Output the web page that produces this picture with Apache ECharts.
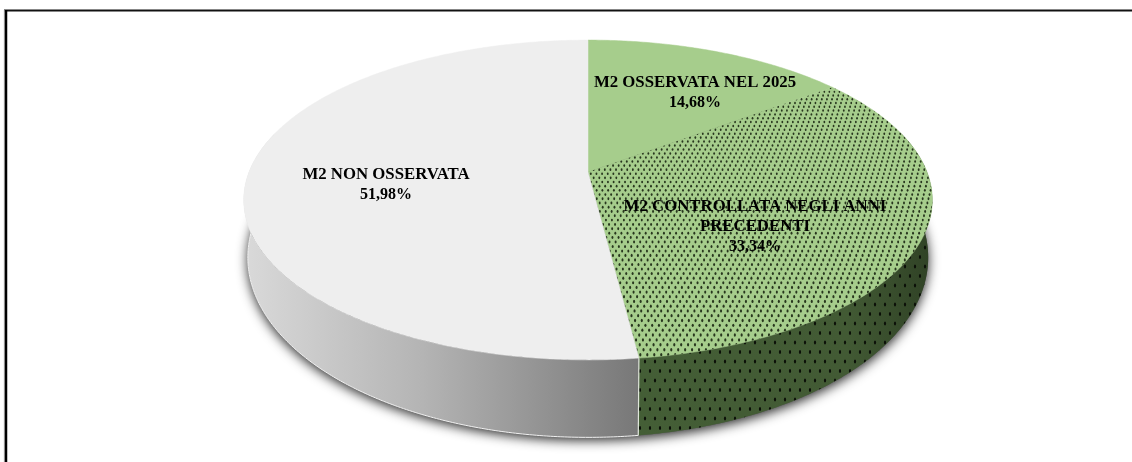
<!DOCTYPE html>
<html><head><meta charset="utf-8">
<style>html,body{margin:0;padding:0;background:#fff}#c{width:1132px;height:462px}</style>
<script src="https://cdn.jsdelivr.net/npm/echarts@6/dist/echarts.min.js"></script>
</head><body><div id="c"></div>
<script>
const categories = ['M2 OSSERVATA NEL 2025', 'M2 CONTROLLATA NEGLI ANNI\nPRECEDENTI', 'M2 NON OSSERVATA'];
const shares = [14.68, 33.34, 51.98];

// view geometry of the tilted disc
const V = {cx: 588, cy: 172, A: 339, B: 155, k: 0.175, sx: 0.988, sy: 1.125, dy: 54};
const labelAnchors = [[695, 93], [755, 227], [386, 185]];
const topFill = ['#a6cd8c', '#a6cd8c', '#eeeeee'];

function project(deg, bottom) {
  const r = deg * Math.PI / 180, u = Math.sin(r), v = -Math.cos(r), d = 1 - V.k * v;
  const X = V.A * u / d, Y = V.B * v / d;
  return bottom ? [V.cx + X * V.sx, V.cy + Y * V.sy + V.dy] : [V.cx + X, V.cy + Y];
}
function arc(a0, a1, bottom) {
  const out = [], n = Math.max(2, Math.ceil(Math.abs(a1 - a0) * 2));
  for (let i = 0; i <= n; i++) out.push(project(a0 + (a1 - a0) * i / n, bottom));
  return out;
}
function range(i) {
  let s = 0;
  for (let j = 0; j < i; j++) s += shares[j];
  return [s * 3.6, (s + shares[i]) * 3.6];
}
function texture(draw) {
  const c = document.createElement('canvas');
  c.width = 1132; c.height = 462;
  draw(c.getContext('2d'));
  return {image: c, repeat: 'no-repeat'};
}
const topDots = texture(g => {
  g.fillStyle = '#27361d';
  let y = 40, row = 0;
  while (y < 375) {
    const t = Math.max(0, (y - 88) / 270);
    const dx = 5 + 2 * t, off = row % 2 ? dx / 2 : 0;
    for (let i = -60; i <= 60; i++) {
      g.beginPath();
      g.ellipse(V.cx + off + i * dx, y, 0.85 + 0.25 * t, 1.15 + 0.6 * t, 0, 0, 7);
      g.fill();
    }
    y += 3.7 + 1.3 * t; row++;
  }
});
const wallDots = texture(g => {
  g.fillStyle = '#0b1008';
  let row = 0;
  for (let y = 200; y < 450; y += 9.5, row++) {
    const off = row % 2 ? 5 : 0;
    for (let x = 630; x < 940; x += 10) {
      g.beginPath();
      g.ellipse(x + off, y, 1.1, 1.9, 0, 0, 7);
      g.fill();
    }
  }
});

const visible = [75, 285];
function wallPoints(i) {
  const [a, b] = range(i);
  const a0 = Math.max(a, visible[0]), a1 = Math.min(b, visible[1]);
  if (a1 <= a0) return null;
  return arc(a0, a1, false).concat(arc(a1, a0, true));
}
const wallFill = [null,
  {type: 'linear', x: 638, y: 0, x2: 935, y2: 0, global: true,
   colorStops: [{offset: 0, color: '#445e36'}, {offset: 0.7, color: '#425a34'}, {offset: 1, color: '#2f4125'}]},
  {type: 'linear', x: 246, y: 0, x2: 638, y2: 0, global: true,
   colorStops: [{offset: 0, color: '#d9d9d9'}, {offset: 0.45, color: '#b4b4b4'}, {offset: 1, color: '#787878'}]}];

const chart = echarts.init(document.getElementById('c'), null, {renderer: 'canvas'});
const pieData = shares.map((v, i) => ({name: categories[i], value: v}));

chart.setOption({
  animation: false,
  backgroundColor: '#fff',
  graphic: [
    {type: 'line', z: 100, shape: {x1: 4, y1: 10.5, x2: 1132, y2: 10.5}, style: {stroke: '#111', lineWidth: 2}},
    {type: 'line', z: 100, shape: {x1: 6, y1: 10, x2: 6, y2: 462}, style: {stroke: '#000', lineWidth: 2.5}},
    {type: 'line', z: 100, shape: {x1: 4.4, y1: 10, x2: 4.4, y2: 462}, style: {stroke: '#888', lineWidth: 1}}
  ],
  series: [
    {
      type: 'custom', coordinateSystem: 'none', z: 1, silent: true, data: [0],
      renderItem: () => ({
        type: 'polygon',
        shape: {points: arc(0, 360, true)},
        style: {fill: '#555', shadowBlur: 12, shadowColor: 'rgba(0,0,0,0.85)', shadowOffsetY: 3}
      })
    },
    {
      type: 'custom', coordinateSystem: 'none', z: 2, silent: true, data: pieData,
      renderItem: (p) => {
        const pts = wallPoints(p.dataIndex);
        if (!pts) return {type: 'group', children: []};
        const kids = [{type: 'polygon', shape: {points: pts}, style: {fill: wallFill[p.dataIndex]}}];
        if (p.dataIndex === 1) kids.push({type: 'polygon', shape: {points: pts}, style: {fill: wallDots}});
        if (p.dataIndex === 2) {
          const [a] = range(2);
          kids.push({type: 'polyline', shape: {points: arc(a, visible[1], true)},
            style: {stroke: '#f2f2f2', lineWidth: 1, fill: 'none'}});
          kids.push({type: 'polyline', shape: {points: [project(a, false), project(a, true)]},
            style: {stroke: '#dfe5da', lineWidth: 1.2, fill: 'none'}});
        }
        return {type: 'group', children: kids};
      }
    },
    {
      type: 'custom', coordinateSystem: 'none', z: 3, silent: true, data: pieData,
      renderItem: (p) => {
        const [a, b] = range(p.dataIndex);
        const pts = [[V.cx, V.cy]].concat(arc(a, b, false));
        const kids = [{type: 'polygon', shape: {points: pts},
          style: {fill: topFill[p.dataIndex], stroke: topFill[p.dataIndex], lineWidth: 0.5}}];
        if (p.dataIndex === 1) kids.push({type: 'polygon', shape: {points: pts}, style: {fill: topDots}});
        return {type: 'group', children: kids};
      }
    },
    {
      type: 'custom', coordinateSystem: 'none', z: 4, silent: true, data: pieData,
      renderItem: (p) => {
        const names = categories[p.dataIndex].split('\n').map(s => '{n|' + s + '}').join('\n');
        const pct = '{p|' + shares[p.dataIndex].toFixed(2).replace('.', ',') + '%}';
        return {
          type: 'text',
          x: labelAnchors[p.dataIndex][0], y: labelAnchors[p.dataIndex][1],
          style: {
            text: names + '\n' + pct,
            align: 'center', verticalAlign: 'middle',
            rich: {
              n: {font: 'bold 16.8px "Liberation Serif"', lineHeight: 20, fill: '#000', align: 'center'},
              p: {font: 'bold 16px "Liberation Serif"', lineHeight: 20, fill: '#000', align: 'center'}
            }
          }
        };
      }
    }
  ]
});
</script></body></html>
